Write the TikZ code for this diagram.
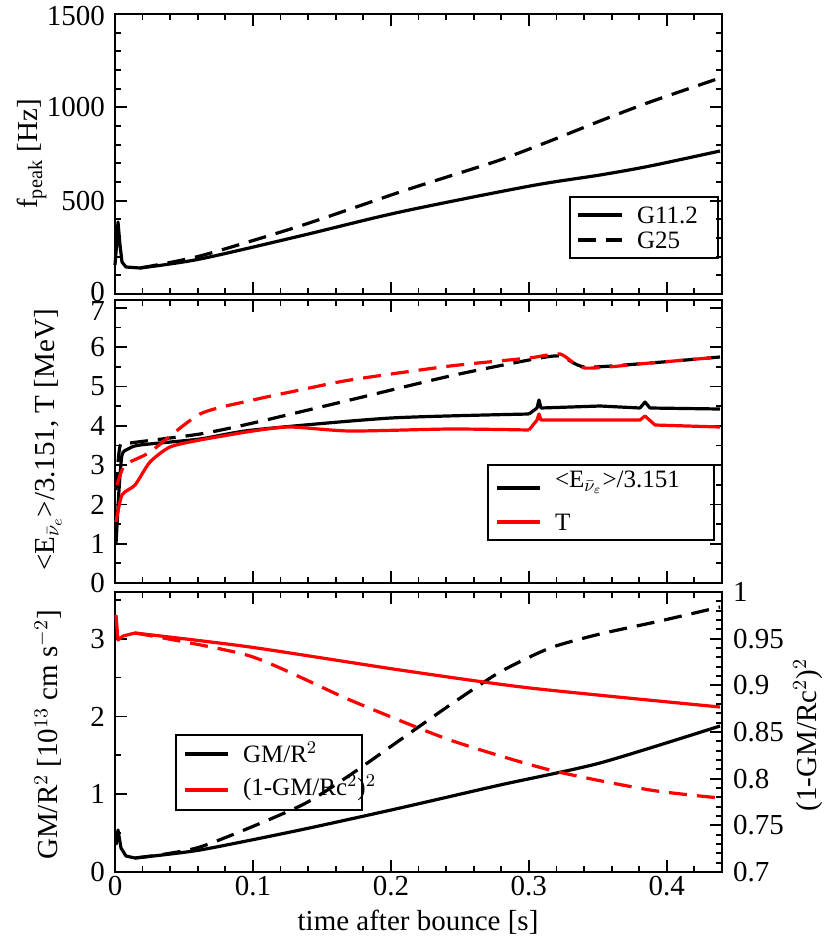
\documentclass[tikz,border=0pt]{standalone}
\usepackage{fontspec}
\setmainfont{Liberation Serif}
\begin{document}
\begin{tikzpicture}[x=0.5pt,y=-0.5pt,
  frame/.style={line width=1.3pt},
  crv/.style={line width=1.6pt, line join=round},
  dsh/.style={crv, dash pattern=on 9pt off 5pt},
  lab/.style={font=\fontsize{14.5}{17}\selectfont},
  leg/.style={font=\fontsize{12.5}{14}\selectfont, anchor=west},
  tk/.style={line width=0.9pt}]
\useasboundingbox (0,0) rectangle (830,938);
% frames
\draw[frame] (115,14) rectangle (722,294);
\draw[frame] (115,300) rectangle (722,583);
\draw[frame] (115,592) rectangle (722,872);
% x ticks
\foreach \yt/\yb in {14/294,300/583,592/872}{
 \foreach \i in {0,...,22}{ \pgfmathsetmacro\xx{115+\i*27.59}
   \draw[tk] (\xx,\yt) -- ++(0,6); \draw[tk] (\xx,\yb) -- ++(0,-6);}
 \foreach \i in {1,...,4}{ \pgfmathsetmacro\xx{115+\i*137.95}
   \draw[tk] (\xx,\yt) -- ++(0,12); \draw[tk] (\xx,\yb) -- ++(0,-12);}
}
% panel1 y ticks
\foreach \i in {1,...,14}{\pgfmathsetmacro\yy{294-\i*18.67}\draw[tk](115,\yy)--++(6,0);\draw[tk](722,\yy)--++(-6,0);}
\foreach \i in {1,2}{\pgfmathsetmacro\yy{294-\i*93.33}\draw[tk](115,\yy)--++(12,0);\draw[tk](722,\yy)--++(-12,0);}
\foreach \v/\y in {0/292,500/200.7,1000/107.3,1500/16}{\node[lab,anchor=east] at (112,\y) {\v};}
% panel2 y ticks
\foreach \i in {1,...,14}{\pgfmathsetmacro\yy{583-\i*19.65}\draw[tk](115,\yy)--++(6,0);\draw[tk](722,\yy)--++(-6,0);}
\foreach \i in {1,...,7}{\pgfmathsetmacro\yy{583-\i*39.3}\draw[tk](115,\yy)--++(12,0);\draw[tk](722,\yy)--++(-12,0);}
\foreach \i in {0,...,7}{\pgfmathsetmacro\yy{583-\i*39.3+(\i==7?3:0)}\node[lab,anchor=east] at (112,\yy) {\i};}
% panel3 left ticks
\foreach \i in {1,...,7}{\pgfmathsetmacro\yy{872-\i*38.9}\draw[tk](115,\yy)--++(6,0);}
\foreach \i in {1,...,3}{\pgfmathsetmacro\yy{872-\i*77.8}\draw[tk](115,\yy)--++(12,0);}
\foreach \i in {0,...,3}{\pgfmathsetmacro\yy{872-\i*77.8}\node[lab,anchor=east] at (112,\yy) {\i};}
% panel3 right ticks
\foreach \i in {1,...,29}{\pgfmathsetmacro\yy{872-\i*9.333}\draw[tk](722,\yy)--++(-6,0);}
\foreach \i in {1,...,5}{\pgfmathsetmacro\yy{872-\i*46.67}\draw[tk](722,\yy)--++(-12,0);}
\foreach \v [count=\i from 0] in {0.7,0.75,0.8,0.85,0.9,0.95,1}{\pgfmathsetmacro\yy{872-\i*46.67}\node[lab,anchor=west] at (726,\yy) {\v};}
% x labels
\foreach \v [count=\i from 0] in {0,0.1,0.2,0.3,0.4}{\pgfmathsetmacro\xx{115+\i*137.95}\node[lab,anchor=north,inner sep=1pt] at (\xx,874) {\v};}
\node[lab] (xl) at (418,922) {time after bounce [s]};
\node[lab,rotate=90] (yl1) at (32,154) {f$_{\mathrm{peak}}$ [Hz]};
\node[lab,rotate=90] (yl2) at (48,440) {<E$_{\bar{\nu}_e}$>/3.151, T [MeV]};
\node[lab,rotate=90] (yl3) at (48,735) {GM/R$^2$ [10$^{13}$ cm s$^{-2}$]};
\node[lab,rotate=90] (yl4) at (808,735) {(1-GM/Rc$^2$)$^2$};
% panel1 curves
\draw[crv] (115,265)--(117,240)--(118,222)--(120,245)--(122,262)--(126,267)--(140,268) plot[smooth] coordinates{(140,268)(200,259)(300,236)(400,212)(530,186)(600,175)(650,166)(720,151)};
\draw[dsh] plot[smooth,tension=0.4] coordinates{(140,268)(200,256)(300,226)(400,192)(450,176)(500,160)(550,141)(600,121)(650,102)(720,78)};
% legend1
\draw[line width=1pt] (570,197) rectangle (718,258);
\draw[crv] (578,215)--(622,215); \node[leg] (g1) at (630,215) {G11.2};
\draw[dsh] (578,240)--(622,240); \node[leg] (g2) at (630,240) {G25};
% panel2 curves
\draw[crv] plot[smooth,tension=0.4] coordinates{(116,544)(119,490)(122,455)(128,449)(140,445)(200,439)(253,430)(391,418)(529,414)};
\draw[crv] (529,414)--(537,408)--(539,400)--(541,408)--(600,406)--(640,408)--(645,402)--(650,408)--(720,409);
\draw[crv,red] plot[smooth,tension=0.4] coordinates{(116,522)(122,495)(135,485)(150,462)(170,447)(200,440)(253,431)(290,427)(350,431)(450,429)(529,430)};
\draw[crv,red] (529,430)--(537,420)--(539,414)--(541,420)--(600,420)--(640,420)--(645,416)--(655,425)--(720,427);
\draw[dsh] plot[smooth,tension=0.4] coordinates{(116,490)(120,446)(130,443)(200,434)(253,423)(350,400)(450,376)(529,360)(560,356)(585,367)(650,363)(720,357)};
\draw[dsh,red] plot[smooth,tension=0.4] coordinates{(117,485)(125,465)(150,452)(200,414)(253,400)(300,390)(350,380)(450,366)(529,358)(560,354)(585,368)(650,363)(720,357)};
% legend2
\draw[line width=1pt] (488,465) rectangle (714,540);
\draw[crv] (497,488)--(540,488); \node[leg] (e1) at (548,482) {<E$_{\bar{\nu}_\varepsilon}$>/3.151};
\draw[crv,red] (497,522)--(540,522); \node[leg] (e2) at (548,522) {T};
% panel3 curves
\draw[crv] (116,845)--(118,830)--(121,848)--(126,856)--(135,858) plot[smooth,tension=0.4] coordinates{(135,858)(200,850)(300,830)(400,808)(500,785)(600,763)(720,726)};
\draw[dsh] plot[smooth,tension=0.4] coordinates{(135,858)(200,847)(300,806)(350,775)(400,740)(450,705)(500,672)(550,648)(600,634)(660,621)(720,607)};
\draw[crv,red] (116,615)--(118,640)--(123,636)--(135,633) plot[smooth,tension=0.4] coordinates{(135,633)(250,647)(400,670)(530,688)(720,707)};
\draw[dsh,red] plot[smooth,tension=0.4] coordinates{(135,633)(250,656)(350,700)(450,740)(550,770)(650,790)(720,798)};
% legend3
\draw[line width=1pt] (176,735) rectangle (362,810);
\draw[crv] (185,754)--(228,754); \node[leg] (m1) at (236,752) {GM/R$^2$};
\draw[crv,red] (185,790)--(228,790); \node[leg] (m2) at (236,788) {(1-GM/Rc$^2$)$^2$};
\end{tikzpicture}
\end{document}
